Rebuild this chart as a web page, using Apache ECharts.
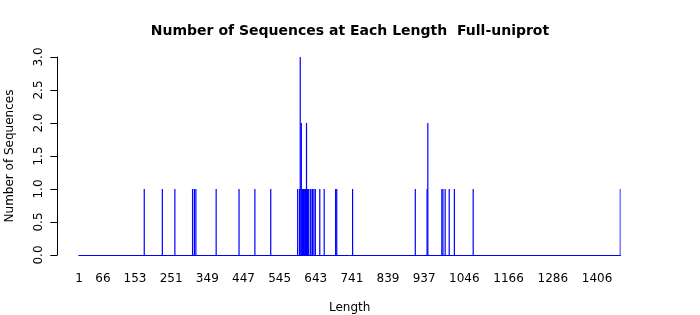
<!DOCTYPE html>
<html>
<head>
<meta charset="utf-8">
<script src="https://cdn.jsdelivr.net/npm/echarts@6/dist/echarts.min.js"></script>
<style>html,body{margin:0;padding:0;background:#fff}#c{width:700px;height:315px}</style>
</head>
<body>
<div id="c"></div>
<script>
const chartTitle = 'Number of Sequences at Each Length  Full-uniprot';
const maxLength = 1469;
const tickLabels = [1, 66, 153, 251, 349, 447, 545, 643, 741, 839, 937, 1046, 1166, 1286, 1406];
const yTicks = [0, 0.5, 1, 1.5, 2, 2.5, 3];
const seqLengths = [178, 227, 261, 309, 314, 318, 373, 435, 478, 521,
  594, 599, 601, 604, 607, 610, 613, 615, 618, 621, 623, 628, 630, 634, 638, 642,
  654, 666, 697, 700, 743, 913, 945, 947, 985, 988, 994, 1005, 1019, 1070, 1469];
const seqCounts = [1, 1, 1, 1, 1, 1, 1, 1, 1, 1,
  1, 1, 3, 2, 1, 1, 1, 1, 2, 1, 1, 1, 1, 1, 1, 1,
  1, 1, 1, 1, 1, 1, 1, 2, 1, 1, 1, 1, 1, 1, 1];

const categories = [];
for (let i = 1; i <= maxLength; i++) categories.push(String(i));
const tickSet = new Set(tickLabels.map(String));
const barData = seqLengths.map((l, i) => [String(l), seqCounts[i]]);

const chart = echarts.init(document.getElementById('c'), null, {renderer: 'canvas'});
const font = 'DejaVu Sans';
chart.setOption({
  animation: false,
  backgroundColor: '#ffffff',
  title: {
    text: chartTitle, left: 'center', top: 18,
    textStyle: {fontFamily: font, fontSize: 14, fontWeight: 'bold', color: '#000', lineHeight: 16}
  },
  grid: {left: 78.8, right: 79.5, top: 57, bottom: 60, containLabel: false, outerBoundsMode: 'none'},
  xAxis: {
    type: 'category', data: categories, boundaryGap: true,
    name: 'Length', nameLocation: 'middle', nameGap: 47,
    nameTextStyle: {fontFamily: font, fontSize: 12, color: '#000'},
    axisLine: {show: true, onZero: true, lineStyle: {color: '#0000ff', width: 1}},
    axisTick: {show: false},
    splitLine: {show: false},
    axisLabel: {
      interval: (idx, val) => tickSet.has(val),
      fontFamily: font, fontSize: 12, color: '#000', margin: 18, hideOverlap: false
    }
  },
  yAxis: {
    type: 'value', min: 0, max: 3, interval: 0.5, offset: 21.5,
    name: 'Number of Sequences', nameLocation: 'middle', nameGap: 41,
    nameTextStyle: {fontFamily: font, fontSize: 12, color: '#000'},
    axisLine: {show: true, lineStyle: {color: '#000', width: 1}},
    axisTick: {show: true, inside: false, length: 7, lineStyle: {color: '#000'}},
    splitLine: {show: false},
    axisLabel: {
      rotate: 90, margin: 12, fontFamily: font, fontSize: 12, color: '#000',
      formatter: v => (yTicks.includes(v) ? v.toFixed(1) : '')
    }
  },
  series: [{
    type: 'bar', data: barData, barWidth: 1.2, barGap: '-100%',
    itemStyle: {color: '#0000ff'}, emphasis: {disabled: true}
  }]
});
</script>
</body>
</html>
